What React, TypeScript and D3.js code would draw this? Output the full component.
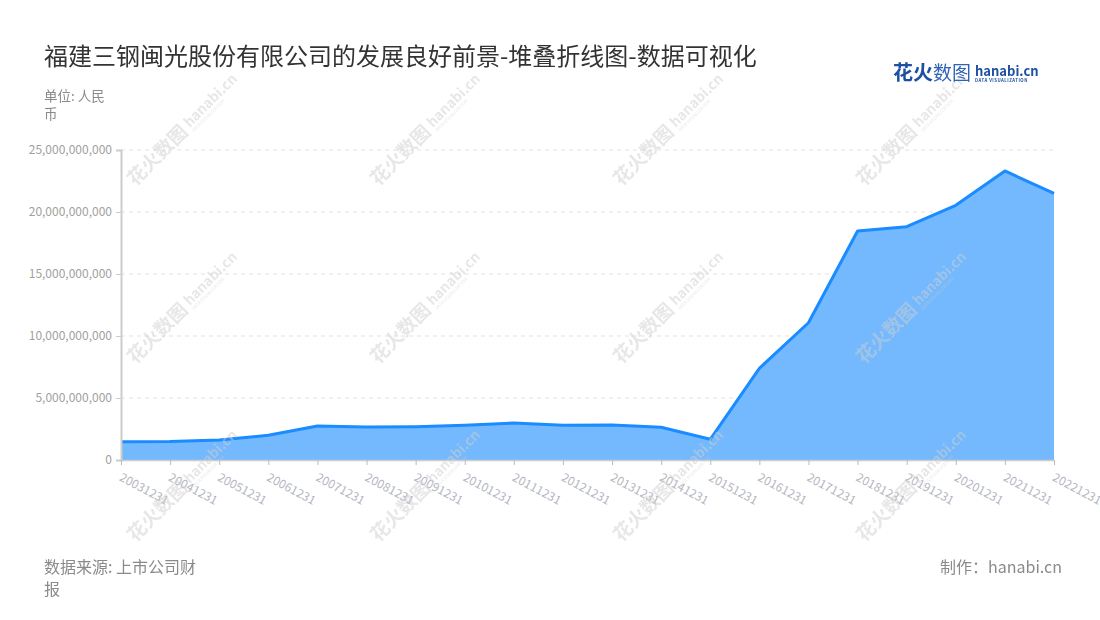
import { useEffect, useRef } from 'react';
import * as d3 from 'd3';

const dates = [
  '20031231', '20041231', '20051231', '20061231', '20071231', '20081231', '20091231',
  '20101231', '20111231', '20121231', '20131231', '20141231', '20151231', '20161231',
  '20171231', '20181231', '20191231', '20201231', '20211231', '20221231',
];

const values = [
  1.48e9, 1.5e9, 1.62e9, 1.99e9, 2.74e9, 2.66e9, 2.69e9,
  2.8e9, 2.98e9, 2.8e9, 2.82e9, 2.64e9, 1.67e9, 7.39e9,
  11.07e9, 18.47e9, 18.82e9, 20.54e9, 23.31e9, 21.5e9,
];

const yTicks = [0, 5e9, 10e9, 15e9, 20e9, 25e9];

const watermarkCols = [184, 427, 670, 913];
const watermarkRows = [128, 306, 484];

const FONT = '"Noto Sans CJK SC", "Noto Sans", sans-serif';

export default function App() {
  const svgRef = useRef<SVGSVGElement>(null);

  useEffect(() => {
    if (!svgRef.current) return;
    const width = 1100;
    const height = 620;
    const margin = { top: 150, right: 46, bottom: 160, left: 121 };

    d3.select(svgRef.current).selectAll('*').remove();
    const svg = d3.select(svgRef.current)
      .attr('width', width)
      .attr('height', height)
      .style('font-family', FONT);

    svg.append('rect').attr('width', width).attr('height', height).attr('fill', '#fff');

    const x = d3.scalePoint<string>()
      .domain(dates)
      .range([margin.left, width - margin.right]);

    const y = d3.scaleLinear()
      .domain([0, 25e9])
      .range([height - margin.bottom, margin.top]);

    // grid lines
    svg.append('g')
      .selectAll('line')
      .data(yTicks.filter((d) => d > 0))
      .enter()
      .append('line')
      .attr('x1', margin.left)
      .attr('x2', width - margin.right)
      .attr('y1', (d) => y(d))
      .attr('y2', (d) => y(d))
      .attr('stroke', '#e3e3e3')
      .attr('stroke-dasharray', '4,4');

    // area + line
    const area = d3.area<number>()
      .x((_, i) => x(dates[i]) as number)
      .y0(y(0))
      .y1((d) => y(d));
    const line = d3.line<number>()
      .x((_, i) => x(dates[i]) as number)
      .y((d) => y(d));

    svg.append('path').datum(values).attr('d', area).attr('fill', '#74b9fd');
    svg.append('path')
      .datum(values)
      .attr('d', line)
      .attr('fill', 'none')
      .attr('stroke', '#1a8cff')
      .attr('stroke-width', 3)
      .attr('stroke-linejoin', 'round');

    // y axis
    const yAxis = svg.append('g')
      .attr('transform', `translate(${margin.left},0)`)
      .call(d3.axisLeft(y).tickValues(yTicks).tickSize(5).tickPadding(4).tickFormat((d) => d3.format(',')(d as number)));
    yAxis.select('.domain').attr('stroke', '#cccccc').attr('stroke-width', 2);
    yAxis.selectAll('.tick line').attr('stroke', '#cccccc');
    yAxis.selectAll('.tick text')
      .attr('fill', '#a0a0a0')
      .style('font-size', '12px')
      .style('font-family', FONT);

    // x axis
    const xAxis = svg.append('g')
      .attr('transform', `translate(0,${y(0)})`)
      .call(d3.axisBottom(x).tickSize(5).tickSizeOuter(0));
    xAxis.select('.domain').attr('stroke', '#cccccc').attr('stroke-width', 1.5);
    xAxis.selectAll('.tick line').attr('stroke', '#bbbbbb');
    xAxis.selectAll('.tick text')
      .attr('fill', '#b4b7c2')
      .attr('text-anchor', 'start')
      .attr('x', 0)
      .attr('y', 0)
      .attr('dy', 0)
      .attr('transform', 'translate(-3,20) rotate(28)')
      .style('font-size', '12px')
      .style('font-family', FONT);

    // watermarks
    const wm = svg.append('g').attr('fill', '#cfcfcf').attr('opacity', 0.5);
    watermarkRows.forEach((r) => {
      watermarkCols.forEach((c) => {
        const g = wm.append('g').attr('transform', `translate(${c},${r}) rotate(-45)`);
        g.append('text')
          .attr('x', -76)
          .attr('y', 7)
          .style('font-size', '19px')
          .style('font-weight', 'bold')
          .text('花火数图');
        g.append('text')
          .attr('x', 4)
          .attr('y', 4)
          .style('font-size', '14px')
          .style('font-weight', 'bold')
          .text('hanabi.cn');
        g.append('text')
          .attr('x', 4)
          .attr('y', 10)
          .style('font-size', '4.5px')
          .text('DATA VISUALIZATION');
      });
    });

    // title
    svg.append('text')
      .attr('x', 44)
      .attr('y', 65)
      .attr('fill', '#333')
      .style('font-size', '24px')
      .text('福建三钢闽光股份有限公司的发展良好前景-堆叠折线图-数据可视化');

    // unit
    const unit = svg.append('text').attr('fill', '#8a8a8a').style('font-size', '13.5px');
    unit.append('tspan').attr('x', 44).attr('y', 101).text('单位: 人民');
    unit.append('tspan').attr('x', 44).attr('y', 119).text('币');

    // footer
    const src = svg.append('text').attr('fill', '#8a8a8a').style('font-size', '16px');
    src.append('tspan').attr('x', 44).attr('y', 573).text('数据来源: 上市公司财');
    src.append('tspan').attr('x', 44).attr('y', 595).text('报');
    svg.append('text')
      .attr('x', 1062)
      .attr('y', 573)
      .attr('text-anchor', 'end')
      .attr('fill', '#8a8a8a')
      .style('font-size', '16px')
      .text('制作：hanabi.cn');

    // logo
    const logo = svg.append('g').attr('transform', 'translate(893,80)');
    logo.append('text')
      .attr('fill', '#1d4fa3')
      .style('font-size', '20px')
      .style('font-weight', 'bold')
      .text('花火');
    logo.append('text')
      .attr('x', 40)
      .attr('fill', '#2f62b8')
      .style('font-size', '19px')
      .text('数图');
    logo.append('text')
      .attr('x', 82)
      .attr('y', -4)
      .attr('fill', '#1d4fa3')
      .style('font-size', '13px')
      .style('font-weight', 'bold')
      .text('hanabi.cn');
    logo.append('text')
      .attr('x', 82)
      .attr('y', 2)
      .attr('fill', '#1d4fa3')
      .style('font-size', '4.3px')
      .style('font-weight', 'bold')
      .attr('letter-spacing', '0.5')
      .text('DATA VISUALIZATION');
  }, []);

  return (
    <div style={{ position: 'absolute', left: 0, top: 0 }}>
      <svg ref={svgRef} style={{ display: 'block' }} />
    </div>
  );
}
